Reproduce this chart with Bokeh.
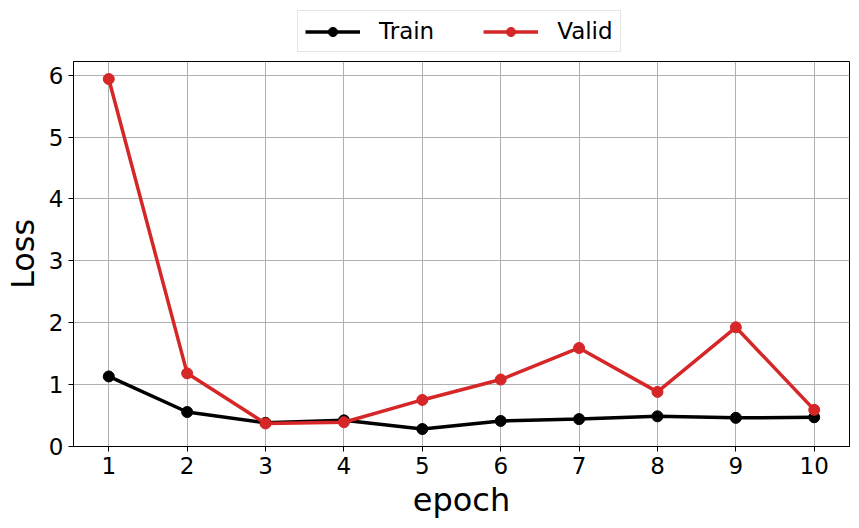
from bokeh.plotting import figure
from bokeh.models import Range1d, FixedTicker, Legend, LegendItem
from bokeh.layouts import column
from bokeh.embed import file_html
from bokeh.resources import INLINE

epochs = [1, 2, 3, 4, 5, 6, 7, 8, 9, 10]
train_loss = [1.13, 0.555, 0.38, 0.42, 0.28, 0.41, 0.44, 0.485, 0.46, 0.47]
valid_loss = [5.94, 1.18, 0.37, 0.39, 0.75, 1.08, 1.59, 0.88, 1.925, 0.59]
x_ticks = [1, 2, 3, 4, 5, 6, 7, 8, 9, 10]
y_ticks = [0, 1, 2, 3, 4, 5, 6]
series_names = ["Train", "Valid"]
series_colors = ["black", "#d62728"]

FONT = "DejaVu Sans"

# main chart
p = figure(width=859, height=468, output_backend="svg", toolbar_location=None,
           x_range=Range1d(0.55, 10.45), y_range=Range1d(-0.003, 6.223),
           min_border_left=73, min_border_right=10, min_border_top=1, min_border_bottom=82)

p.outline_line_color = "black"
p.outline_line_width = 1
p.background_fill_color = "white"
p.border_fill_color = "white"

for ax in (p.xaxis[0], p.yaxis[0]):
    ax.axis_line_color = "black"
    ax.major_tick_line_color = "black"
    ax.major_tick_out = 5
    ax.major_tick_in = 0
    ax.minor_tick_line_color = None
    ax.major_label_text_font = FONT
    ax.major_label_text_font_size = "23px"
    ax.major_label_text_color = "black"
    ax.axis_label_text_font = FONT
    ax.axis_label_text_font_style = "normal"
    ax.axis_label_text_color = "black"

p.xaxis.ticker = FixedTicker(ticks=x_ticks)
p.yaxis.ticker = FixedTicker(ticks=y_ticks)
p.xaxis.axis_label = "epoch"
p.yaxis.axis_label = "Loss"
p.xaxis.axis_label_text_font_size = "32px"
p.yaxis.axis_label_text_font_size = "32px"
p.xaxis.major_label_standoff = 5
p.yaxis.major_label_standoff = 5
p.xaxis.axis_label_standoff = 4
p.yaxis.axis_label_standoff = 4

p.grid.grid_line_color = "#b0b0b0"
p.grid.grid_line_width = 1

p.line(epochs, train_loss, line_color=series_colors[0], line_width=3.5)
p.scatter(epochs, train_loss, size=11, fill_color=series_colors[0], line_color=series_colors[0])
p.line(epochs, valid_loss, line_color=series_colors[1], line_width=3.5)
p.scatter(epochs, valid_loss, size=11, fill_color=series_colors[1], line_color=series_colors[1])

# legend strip above the chart
lg = figure(width=859, height=60, output_backend="svg", toolbar_location=None,
            x_range=Range1d(0, 1), y_range=Range1d(0, 1),
            x_axis_type=None, y_axis_type=None,
            min_border_left=0, min_border_right=0, min_border_top=0, min_border_bottom=0)
lg.grid.visible = False
lg.outline_line_color = None

items = []
for name, col in zip(series_names, series_colors):
    rl = lg.line(x=[-5, -4], y=[-5, -4], line_color=col, line_width=3.5)
    rc = lg.scatter(x=[-5], y=[-5], size=9, fill_color=col, line_color=col)
    items.append(LegendItem(label=name, renderers=[rl, rc]))

legend = Legend(items=items, orientation="horizontal", location=(224, 8))
legend.label_text_font = FONT
legend.label_text_font_size = "23px"
legend.label_text_color = "black"
legend.glyph_width = 55
legend.glyph_height = 23
legend.label_standoff = 19
legend.spacing = 49
legend.padding = 7
legend.margin = 0
legend.border_line_color = "#cccccc"
legend.border_line_width = 1
legend.background_fill_alpha = 1
lg.add_layout(legend, "center")

layout = column(lg, p, spacing=0)
open("out.html", "w").write(file_html(layout, INLINE))
